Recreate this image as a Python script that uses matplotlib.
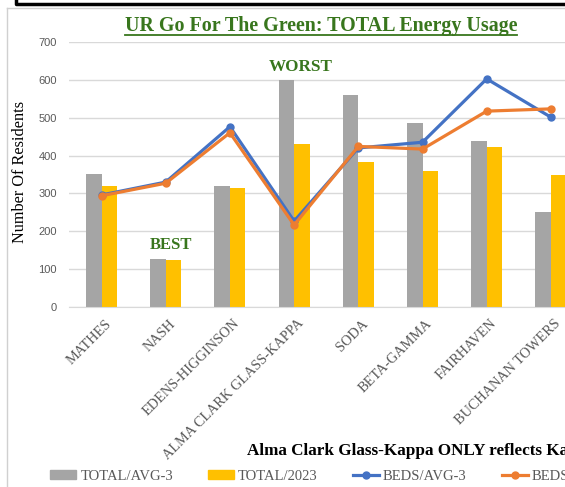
import matplotlib.pyplot as plt
import matplotlib.transforms as mtransforms
from matplotlib.lines import Line2D
from matplotlib.patches import Patch
import numpy as np

#=====================
# Data
#=====================
halls = ['MATHES', 'NASH', 'EDENS-HIGGINSON', 'ALMA CLARK GLASS-KAPPA',
         'SODA', 'BETA-GAMMA', 'FAIRHAVEN', 'BUCHANAN TOWERS']
total_avg3 = [350, 127, 320, 598, 560, 487, 439, 251]
total_2023 = [320, 124, 315, 430, 383, 359, 423, 349]
beds_avg3 = [296, 330, 476, 227, 420, 435, 602, 501]
beds_2023 = [294, 327, 460, 217, 424, 417, 517, 523]
series_names = ['TOTAL/AVG-3', 'TOTAL/2023', 'BEDS/AVG-3', 'BEDS/2023']

#=====================
# Figure
#=====================
W, H = 565, 487
fig = plt.figure(figsize=(W / 100, H / 100), dpi=100)


def fx(x):
    return x / W


def fy(y):
    return 1 - y / H


# axes spans past the right edge (reference is cropped)
ax = fig.add_axes([fx(69.4), fy(307.3), fx(583 - 69.4), (307.3 - 41.7) / H])

x = np.arange(len(halls))
bw = 0.24
ax.bar(x - bw / 2, total_avg3, bw, color='#A5A5A5', zorder=2)
ax.bar(x + bw / 2, total_2023, bw, color='#FFC000', zorder=2)
ax.plot(x, beds_avg3, color='#4472C4', lw=2.3, marker='o', ms=5, zorder=3)
ax.plot(x, beds_2023, color='#ED7D31', lw=2.3, marker='o', ms=5, zorder=4)

ax.set_xlim(-0.5, len(halls) - 0.5)
ax.set_ylim(0, 700)
ax.set_yticks(range(0, 701, 100))
ax.yaxis.grid(True, color='#D9D9D9', lw=1, zorder=0)
ax.set_axisbelow(True)
for s in ['top', 'right', 'left']:
    ax.spines[s].set_visible(False)
ax.spines['bottom'].set_color('#D9D9D9')
ax.tick_params(length=0)
ax.tick_params(axis='y', pad=9, labelsize=8, labelcolor='#595959')
for t in ax.get_yticklabels():
    t.set_family('Liberation Sans')

ax.set_xticks(x)
ax.set_xticklabels(halls, rotation=45, ha='right', rotation_mode='anchor',
                   family='Liberation Serif', fontsize=10.3, color='#595959')
ax.tick_params(axis='x', pad=7)
shift = mtransforms.ScaledTranslation(3 / 100, 0, fig.dpi_scale_trans)
for t in ax.get_xticklabels():
    t.set_transform(t.get_transform() + shift)

ax.set_ylabel('Number Of Residents', family='Liberation Serif', fontsize=11.7,
              color='black')
ax.yaxis.set_label_coords(fx(28 - 69.4) / fx(583 - 69.4), 0.51)

# annotations
green = '#38761D'
fig.text(fx(301), fy(67), 'WORST', ha='center', va='center', color=green,
         family='Liberation Serif', weight='bold', fontsize=12.3)
fig.text(fx(171), fy(245.5), 'BEST', ha='center', va='center', color=green,
         family='Liberation Serif', weight='bold', fontsize=12)

title = fig.text(fx(321), fy(26), 'UR Go For The Green: TOTAL Energy Usage',
                 ha='center', va='center', color=green,
                 family='Liberation Serif', weight='bold', fontsize=14.4)

fig.text(fx(246.7), fy(451), 'Alma Clark Glass-Kappa ONLY reflects Kappa',
         ha='left', va='center', color='black', family='Liberation Serif',
         weight='bold', fontsize=12.3)

# legend
handles = [Patch(color='#A5A5A5'), Patch(color='#FFC000'),
           Line2D([], [], color='#4472C4', lw=2.3, marker='o', ms=5),
           Line2D([], [], color='#ED7D31', lw=2.3, marker='o', ms=5)]
fig.legend(handles, series_names, ncol=4, loc='center left',
           bbox_to_anchor=(fx(50.4), fy(476)), frameon=False,
           borderaxespad=0, borderpad=0,
           prop={'family': 'Liberation Serif', 'size': 10.5},
           labelcolor='#595959', handlelength=1.78, handleheight=0.55,
           handletextpad=0.28, columnspacing=2.4)

# underline for the title
fig.canvas.draw()
bb = title.get_window_extent()
fig.add_artist(Line2D([bb.x0 / W, bb.x1 / W], [(bb.y0 + 1) / H] * 2,
                      color=green, lw=1.3))

# frame bits from the screenshot
fig.add_artist(Line2D([fx(6.5), fx(6.5)], [fy(8), fy(487)], color='#D0D0D0', lw=1))
fig.add_artist(Line2D([fx(6.5), fx(565)], [fy(8), fy(8)], color='#D0D0D0', lw=1))
fig.add_artist(Line2D([fx(16), fx(16), fx(565)], [fy(0), fy(4), fy(4)],
                      color='black', lw=2.5))

fig.savefig('out.png', dpi=100)
